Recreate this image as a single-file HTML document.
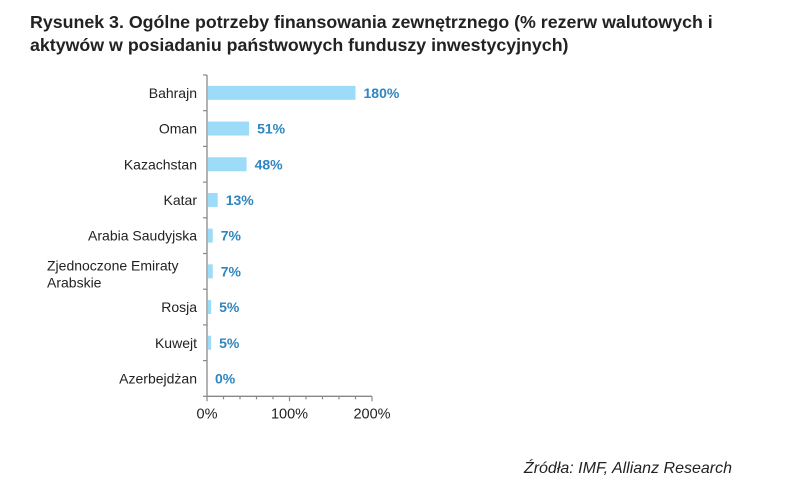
<!DOCTYPE html>
<html><head><meta charset="utf-8"><style>
body{margin:0;background:#fff;width:788px;height:494px;overflow:hidden;font-family:"Liberation Sans",Arial,sans-serif}
#title{position:absolute;left:30px;top:11px;font-weight:bold;font-size:17.8px;line-height:23px;color:#222;white-space:nowrap}
#src{position:absolute;right:56px;top:460px;font-style:italic;font-size:16px;color:#222}
</style></head><body>
<div id="title">Rysunek 3. Ogólne potrzeby finansowania zewnętrznego (% rezerw walutowych i<br>aktywów w posiadaniu państwowych funduszy inwestycyjnych)</div>
<svg id="chart" width="788" height="494" style="position:absolute;left:0;top:0"></svg>
<div id="src">Źródła: IMF, Allianz Research</div>
<script>
const categories=["Bahrajn","Oman","Kazachstan","Katar","Arabia Saudyjska","Zjednoczone Emiraty|Arabskie","Rosja","Kuwejt","Azerbejdżan"];
const values=[180,51,48,13,7,7,5,5,0];
const valueLabels=["180%","51%","48%","13%","7%","7%","5%","5%","0%"];
const tickValues=[0,100,200];
const tickLabels=["0%","100%","200%"];
const svg=document.getElementById('chart');const NS='http://www.w3.org/2000/svg';
const x0=207,scale=0.825,top0=75,rowH=35.7;
const xs=v=>x0+v*scale;
function mk(t,a,p){const e=document.createElementNS(NS,t);for(const k in a)e.setAttribute(k,a[k]);(p||svg).appendChild(e);return e;}
const bottom=top0+rowH*categories.length;
let ax=mk('line',{x1:x0,y1:top0,x2:x0,y2:bottom,stroke:'#888','stroke-width':1.3});

let bx=mk('line',{x1:x0,y1:bottom,x2:xs(200),y2:bottom,stroke:'#888','stroke-width':1.3});

for(let i=0;i<=categories.length;i++){mk('line',{x1:x0-4,x2:x0,y1:top0+i*rowH,y2:top0+i*rowH,stroke:'#888','stroke-width':1.2});}
for(let v=0;v<=200;v+=20){mk('line',{x1:xs(v),x2:xs(v),y1:bottom,y2:bottom+(v%100===0?5:3),stroke:'#888','stroke-width':1.2});}
tickValues.forEach((v,i)=>{const t=mk('text',{x:xs(v),y:bottom+22,'text-anchor':'middle','font-size':14.5,fill:'#222'});t.textContent=tickLabels[i];
});
categories.forEach((c,i)=>{const cy=top0+rowH*i+rowH/2;
const r=mk('rect',{x:x0+1,y:cy-7,width:Math.max(0,xs(values[i])-x0-1),height:14,fill:'#9ddcf8'});

const parts=c.split('|');
if(parts.length===1){const t=mk('text',{x:197,y:cy+5,'text-anchor':'end','font-size':14,fill:'#222'});t.textContent=c;
}
else{const t=mk('text',{x:47,y:cy-1,'font-size':14,fill:'#222'});t.textContent=parts[0];

const t2=mk('text',{x:47,y:cy+16,'font-size':14,fill:'#222'});t2.textContent=parts[1];
}
const l=mk('text',{x:xs(values[i])+8,y:cy+5,'font-size':14,'font-weight':'bold',fill:'#2f86c0'});l.textContent=valueLabels[i];

});
</script>
</body></html>
